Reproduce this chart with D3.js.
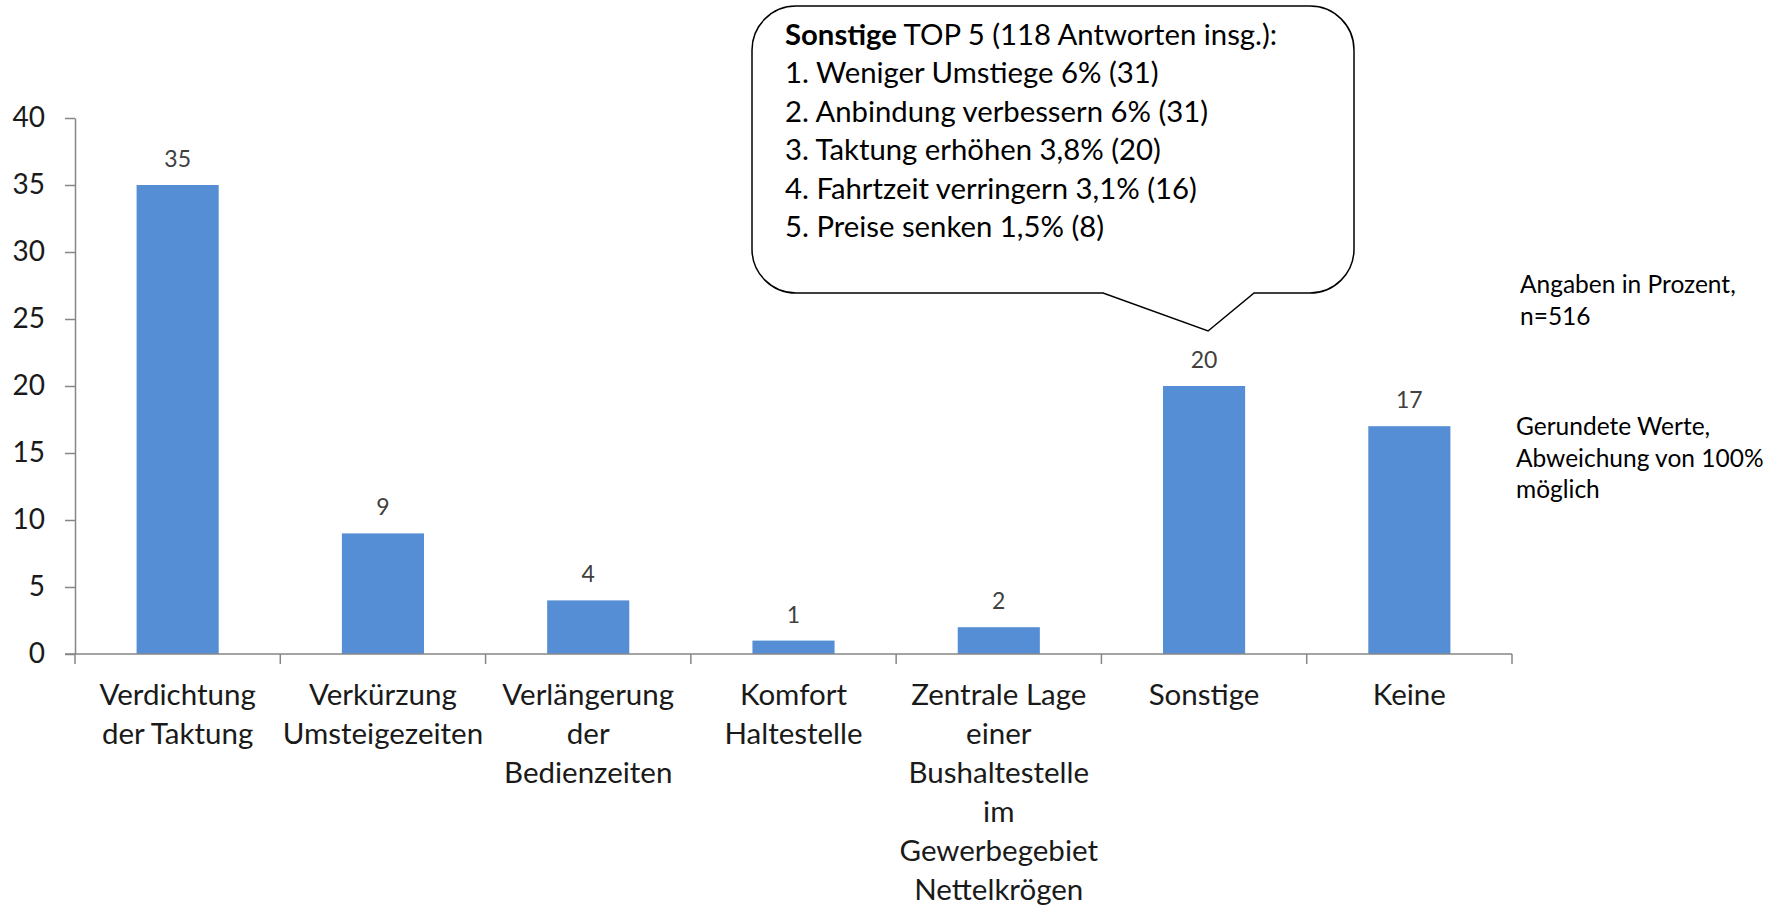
<!DOCTYPE html>
<html>
<head>
<meta charset="utf-8">
<script src="https://cdn.jsdelivr.net/npm/d3@7"></script>
<style>
  html, body { margin: 0; padding: 0; background: #fff; }
  svg { display: block; font-family: Lato, "Open Sans", sans-serif; }
</style>
</head>
<body>
<svg id="chart" width="1779" height="906"></svg>
<script>
// ---- data ----
const categories = [
  "Verdichtung der Taktung",
  "Verkürzung Umsteigezeiten",
  "Verlängerung der Bedienzeiten",
  "Komfort Haltestelle",
  "Zentrale Lage einer Bushaltestelle im Gewerbegebiet Nettelkrögen",
  "Sonstige",
  "Keine"
];
const categoryLines = [
  ["Verdichtung", "der Taktung"],
  ["Verkürzung", "Umsteigezeiten"],
  ["Verlängerung", "der", "Bedienzeiten"],
  ["Komfort", "Haltestelle"],
  ["Zentrale Lage", "einer", "Bushaltestelle", "im", "Gewerbegebiet", "Nettelkrögen"],
  ["Sonstige"],
  ["Keine"]
];
const values = [35, 9, 4, 1, 2, 20, 17];
const yTicks = [0, 5, 10, 15, 20, 25, 30, 35, 40];
const calloutTitleBold = "Sonstige";
const calloutTitleRest = " TOP 5 (118 Antworten insg.):";
const calloutItems = [
  "1. Weniger Umstiege 6% (31)",
  "2. Anbindung verbessern 6% (31)",
  "3. Taktung erhöhen 3,8% (20)",
  "4. Fahrtzeit verringern 3,1% (16)",
  "5. Preise senken 1,5% (8)"
];
const noteA = ["Angaben in Prozent,", "n=516"];
const noteB = ["Gerundete Werte,", "Abweichung von 100%", "möglich"];

// ---- layout ----
const svg = d3.select("#chart");
const plot = { left: 75, right: 1512, top: 118, bottom: 654 };
const axisColor = "#868686";
const barColor = "#558ed5";

const x = d3.scaleBand()
  .domain(categories)
  .range([plot.left, plot.right])
  .paddingInner(0.6)
  .paddingOuter(0.3);

const y = d3.scaleLinear()
  .domain([0, 40])
  .range([plot.bottom, plot.top]);

// y axis
const yAxis = svg.append("g")
  .attr("transform", `translate(${plot.left},0)`)
  .call(d3.axisLeft(y).tickValues(yTicks).tickSize(10).tickPadding(20).tickSizeOuter(0));
yAxis.select(".domain").attr("stroke", axisColor).attr("stroke-width", 1.5);
yAxis.selectAll(".tick line").attr("stroke", axisColor).attr("stroke-width", 1.5);
yAxis.selectAll(".tick text")
  .attr("font-size", 28).attr("fill", "#1a1a1a")
  .attr("font-family", "Lato, sans-serif");

// bars
svg.append("g").selectAll("rect")
  .data(values)
  .join("rect")
  .attr("x", (d, i) => x(categories[i]))
  .attr("y", d => y(d))
  .attr("width", x.bandwidth())
  .attr("height", d => y(0) - y(d))
  .attr("fill", barColor);

// x axis line + boundary ticks
const step = x.step();
const boundaries = categories.map(c => x(c) - step * x.paddingInner() / 2).concat([plot.right]);
boundaries[0] = plot.left;
svg.append("line")
  .attr("x1", plot.left - 10).attr("x2", plot.right)
  .attr("y1", y(0)).attr("y2", y(0))
  .attr("stroke", axisColor).attr("stroke-width", 1.5);
svg.append("g").selectAll("line")
  .data(boundaries)
  .join("line")
  .attr("x1", d => d).attr("x2", d => d)
  .attr("y1", y(0)).attr("y2", y(0) + 10)
  .attr("stroke", axisColor).attr("stroke-width", 1.5);

// value labels
svg.append("g").selectAll("text")
  .data(values)
  .join("text")
  .attr("x", (d, i) => x(categories[i]) + x.bandwidth() / 2)
  .attr("y", d => y(d) - 18)
  .attr("text-anchor", "middle")
  .attr("font-size", 23)
  .attr("fill", "#404040")
  .text(d => d);

// category labels
const catG = svg.append("g");
categoryLines.forEach((lines, i) => {
  const t = catG.append("text")
    .attr("x", x(categories[i]) + x.bandwidth() / 2)
    .attr("y", y(0) + 51)
    .attr("text-anchor", "middle")
    .attr("font-size", 29.5)
    .attr("fill", "#1a1a1a");
  lines.forEach((ln, j) => {
    t.append("tspan")
      .attr("x", x(categories[i]) + x.bandwidth() / 2)
      .attr("dy", j === 0 ? 0 : 39)
      .text(ln);
  });
});

// callout bubble (anchored to the "Sonstige" bar)
const sIdx = categories.indexOf("Sonstige");
const tipX = x(categories[sIdx]) + x.bandwidth() / 2 + 4;
const tipY = y(values[sIdx]) - 55;
const bx0 = 752, bx1 = 1354, by0 = 6, by1 = 293, r = 44;
const p0 = tipX - 105, p1 = tipX + 46;
const bubble = d3.path();
bubble.moveTo(bx0 + r, by0);
bubble.lineTo(bx1 - r, by0);
bubble.arcTo(bx1, by0, bx1, by0 + r, r);
bubble.lineTo(bx1, by1 - r);
bubble.arcTo(bx1, by1, bx1 - r, by1, r);
bubble.lineTo(p1, by1);
bubble.lineTo(tipX, tipY);
bubble.lineTo(p0, by1);
bubble.lineTo(bx0 + r, by1);
bubble.arcTo(bx0, by1, bx0, by1 - r, r);
bubble.lineTo(bx0, by0 + r);
bubble.arcTo(bx0, by0, bx0 + r, by0, r);
bubble.closePath();
svg.append("path")
  .attr("d", bubble.toString())
  .attr("fill", "#fff")
  .attr("stroke", "#000")
  .attr("stroke-width", 1.5);

const cText = svg.append("text")
  .attr("x", 785).attr("y", 45)
  .attr("font-size", 29.3)
  .attr("fill", "#000");
cText.append("tspan").attr("font-weight", "bold").text(calloutTitleBold);
cText.append("tspan").text(calloutTitleRest);
calloutItems.forEach((item, i) => {
  svg.append("text")
    .attr("x", 785).attr("y", 45 + (i + 1) * 38.4)
    .attr("font-size", 29.3)
    .attr("fill", "#000")
    .text(item);
});

// side notes
noteA.forEach((ln, i) => {
  svg.append("text").attr("x", 1520).attr("y", 293 + i * 32)
    .attr("font-size", 24.5).attr("fill", "#000").text(ln);
});
noteB.forEach((ln, i) => {
  svg.append("text").attr("x", 1516).attr("y", 435 + i * 31.5)
    .attr("font-size", 24.5).attr("fill", "#000").text(ln);
});
</script>
</body>
</html>
